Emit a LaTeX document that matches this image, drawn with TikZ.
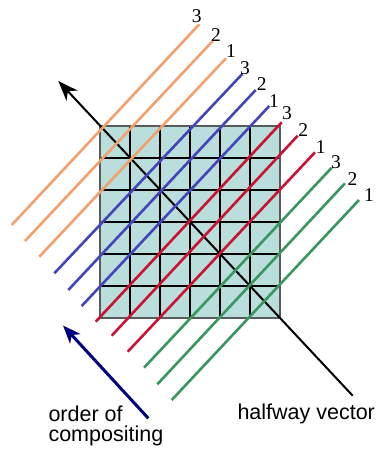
\documentclass[tikz,border=0pt]{standalone}
\usepackage{fontspec}
\setmainfont{Liberation Serif}
\newfontfamily\labelsans{Liberation Sans}
\usetikzlibrary{arrows.meta}
\definecolor{cellfill}{HTML}{B9DEDB}
\definecolor{gridgray}{HTML}{5A5A5A}
\definecolor{orangeL}{HTML}{F2A06E}
\definecolor{blueL}{HTML}{4444BB}
\definecolor{redL}{HTML}{CC1133}
\definecolor{greenL}{HTML}{3A9660}
\definecolor{navyL}{HTML}{000080}
\tikzset{
  layerline/.style={line width=2.6pt},
  numlabel/.style={inner sep=0pt, font=\fontsize{19.5}{21}\selectfont},
  sanslabel/.style={inner sep=0pt, anchor=base west, font=\labelsans\fontsize{21.5}{22}\selectfont},
  halfarrow/.style={line width=2pt, -{Stealth[length=20pt,width=15pt,inset=6pt]}},
  orderarrow/.style={line width=3pt, navyL, -{Stealth[length=18pt,width=14pt,inset=5pt]}}
}
\begin{document}
\begin{tikzpicture}[x=1pt,y=-1pt]
\useasboundingbox (0,0) rectangle (375,454);
% grid
\fill[cellfill] (100,126) rectangle (280,318);
\foreach \i in {1,...,5}{
  \draw[line width=1.2pt] ({100+30*\i},126) -- ({100+30*\i},318);
  \draw[line width=1.2pt] (100,{126+32*\i}) -- (280,{126+32*\i});
}
\draw[line width=1.4pt, gridgray] (100,126) rectangle (280,318);
% halfway vector
\coordinate (hvtail) at (352.7,395.7);
\coordinate (hvtip) at (58.3,81);
\draw[halfarrow] (hvtail) -- (hvtip);
% layer lines
\foreach \k/\tx/\ty/\bx/\by/\col/\lab/\lx/\ly in {
  0/199.3/24.3/11.7/225/orangeL/3/196.7/15.8,
  1/212.7/41/25/241/orangeL/2/216/35,
  2/226/58.3/39.3/256.7/orangeL/1/231/51,
  3/242.3/74/54.3/273.3/blueL/3/245/68.3,
  4/255.7/90/68.3/290/blueL/2/261.7/84,
  5/269.3/106/81.7/306/blueL/1/274/100.8,
  6/281.7/122.3/95.7/321.7/redL/3/287/113,
  7/297.7/135.7/111.7/335.7/redL/2/303.3/130,
  8/315/152.3/127.7/351.7/redL/1/320.8/146.7,
  9/331.7/167.7/144/367.7/greenL/3/336/162,
  10/345/183.3/157.3/384.3/greenL/2/352.5/179,
  11/359/200/171.7/400/greenL/1/369/195.5}{
  \coordinate (t\k) at (\tx,\ty);
  \coordinate (b\k) at (\bx,\by);
  \draw[layerline, \col] (b\k) -- (t\k);
  \node[numlabel] (n\k) at (\lx,\ly) {\lab};
}
% order of compositing
\coordinate (octail) at (148.3,418.3);
\coordinate (octip) at (63,325.5);
\draw[orderarrow] (octail) -- (octip);
\node[sanslabel] (order) at (48.3,421.7) {order of};
\node[sanslabel] (comp) at (48.3,441.5) {compositing};
\node[sanslabel] (half) at (237.3,419.3) {halfway vector};
\end{tikzpicture}
\end{document}
